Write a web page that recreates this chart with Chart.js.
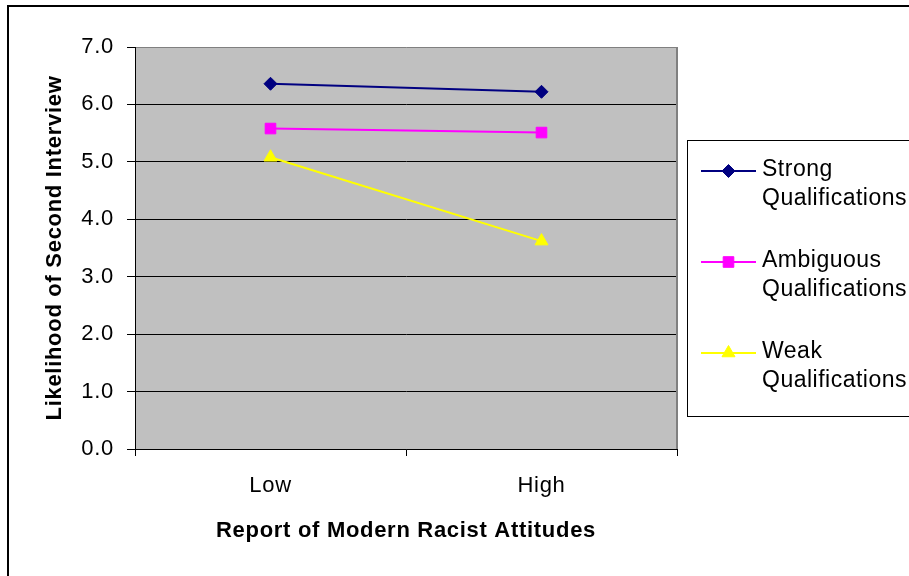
<!DOCTYPE html>
<html>
<head>
<meta charset="utf-8">
<script src="https://cdn.jsdelivr.net/npm/chart.js@4/dist/chart.umd.min.js"></script>
<style>
  html, body { margin: 0; padding: 0; background: #fff; }
  #wrap { width: 909px; height: 576px; position: relative; }
</style>
</head>
<body>
<div id="wrap"><canvas id="c" width="909" height="576"></canvas></div>
<script>
// ---- data ----
const categories = ["Low", "High"];
const strongValues = [6.36, 6.22];
const ambiguousValues = [5.58, 5.51];
const weakValues = [5.08, 3.62];
const seriesNames = [["Strong", "Qualifications"], ["Ambiguous", "Qualifications"], ["Weak", "Qualifications"]];
const yTicks = [0, 1, 2, 3, 4, 5, 6, 7];
const yTitle = "Likelihood of Second Interview";
const xTitle = "Report of Modern Racist Attitudes";

const FONT = "'Liberation Sans', Arial, sans-serif";

const bgPlugin = {
  id: 'bgPlugin',
  beforeDraw(chart) {
    const {ctx, chartArea: a} = chart;
    try { ctx.letterSpacing = '0.7px'; } catch (e) {}
    ctx.save();
    ctx.fillStyle = '#fff';
    ctx.fillRect(0, 0, chart.width, chart.height);
    ctx.fillStyle = '#C0C0C0';
    ctx.fillRect(a.left, a.top, a.right - a.left, a.bottom - a.top);
    // outer border (clipped at right/bottom)
    ctx.strokeStyle = '#000';
    ctx.lineWidth = 2;
    ctx.strokeRect(8, 6, chart.width + 20, chart.height + 20);
    ctx.restore();
  },
  beforeDatasetsDraw(chart) {
    const {ctx, chartArea: a} = chart;
    ctx.save();
    ctx.strokeStyle = '#808080';
    ctx.lineWidth = 2;
    ctx.beginPath();
    ctx.moveTo(a.right, a.top);
    ctx.lineTo(a.right, a.bottom);
    ctx.stroke();
    ctx.restore();
  }
};

const legendPlugin = {
  id: 'boxLegend',
  afterDraw(chart) {
    const ctx = chart.ctx;
    ctx.save();
    ctx.strokeStyle = '#000';
    ctx.lineWidth = 1;
    ctx.strokeRect(687.5, 140.5, 260, 276);
    chart.data.datasets.forEach((ds, i) => {
      const y = 171 + i * 91;
      ctx.strokeStyle = ds.borderColor;
      ctx.lineWidth = ds.borderWidth;
      ctx.beginPath();
      ctx.moveTo(701, y);
      ctx.lineTo(756, y);
      ctx.stroke();
      ctx.fillStyle = ds.pointBackgroundColor;
      ctx.strokeStyle = ds.pointBorderColor;
      ctx.lineWidth = ds.pointBorderWidth;
      Chart.helpers.drawPoint(ctx, {pointStyle: ds.pointStyle, radius: ds.pointRadius, rotation: 0, borderWidth: ds.pointBorderWidth}, 728.5, y);
      ctx.fillStyle = '#000';
      ctx.font = "23px " + FONT;
      try { ctx.letterSpacing = '0.5px'; } catch (e) {}
      ctx.textBaseline = 'middle';
      ctx.textAlign = 'left';
      seriesNames[i].forEach((t, j) => ctx.fillText(t, 762, y - 1 + j * 29));
    });
    ctx.restore();
  }
};

const mk = (name, data, color, style, radius) => ({
  label: name.join(' '),
  data: data,
  borderColor: color,
  backgroundColor: color,
  pointBackgroundColor: color,
  pointBorderColor: color,
  pointBorderWidth: 1,
  borderWidth: 2,
  pointStyle: style,
  pointRadius: radius,
  pointHoverRadius: radius,
  tension: 0,
  fill: false
});

new Chart(document.getElementById('c'), {
  type: 'line',
  data: {
    labels: categories,
    datasets: [
      mk(seriesNames[0], strongValues, '#000080', 'rectRot', 6.5),
      mk(seriesNames[1], ambiguousValues, '#FF00FF', 'rect', 7.5),
      mk(seriesNames[2], weakValues, '#FFFF00', 'triangle', 7.5)
    ]
  },
  options: {
    responsive: false,
    animation: false,
    devicePixelRatio: 1,
    layout: { padding: { top: 47, right: 232, left: 0, bottom: 0 } },
    plugins: { legend: { display: false }, tooltip: { enabled: false } },
    scales: {
      x: {
        offset: true,
        grid: { offset: true, drawOnChartArea: false, drawTicks: true, tickLength: 7, tickColor: '#000', tickWidth: 1 },
        border: { display: true, color: '#000', width: 1 },
        ticks: { color: '#000', font: { family: FONT, size: 22 }, padding: 17, maxRotation: 0 },
        title: { display: true, text: xTitle, color: '#000', font: { family: FONT, size: 22, weight: 'bold' }, padding: { top: 0, bottom: 32 } },
        afterFit(scale) { scale.height = 127; }
      },
      y: {
        min: 0, max: 7,
        afterBuildTicks(scale) { scale.ticks = yTicks.map(v => ({ value: v })); },
        grid: {
          color: (c) => (c.tick && c.tick.value === 7) ? '#808080' : '#000',
          lineWidth: 1,
          tickLength: 8, tickColor: '#000', drawTicks: true
        },
        border: { display: true, color: '#000', width: 1 },
        ticks: { color: '#000', font: { family: FONT, size: 22 }, padding: 13, callback: (v) => Number(v).toFixed(1) },
        title: { display: true, text: yTitle, color: '#000', font: { family: FONT, size: 22, weight: 'bold' }, padding: { top: 42, bottom: 0 } },
        afterFit(scale) { scale.width = 135; }
      }
    }
  },
  plugins: [bgPlugin, legendPlugin]
});
</script>
</body>
</html>
